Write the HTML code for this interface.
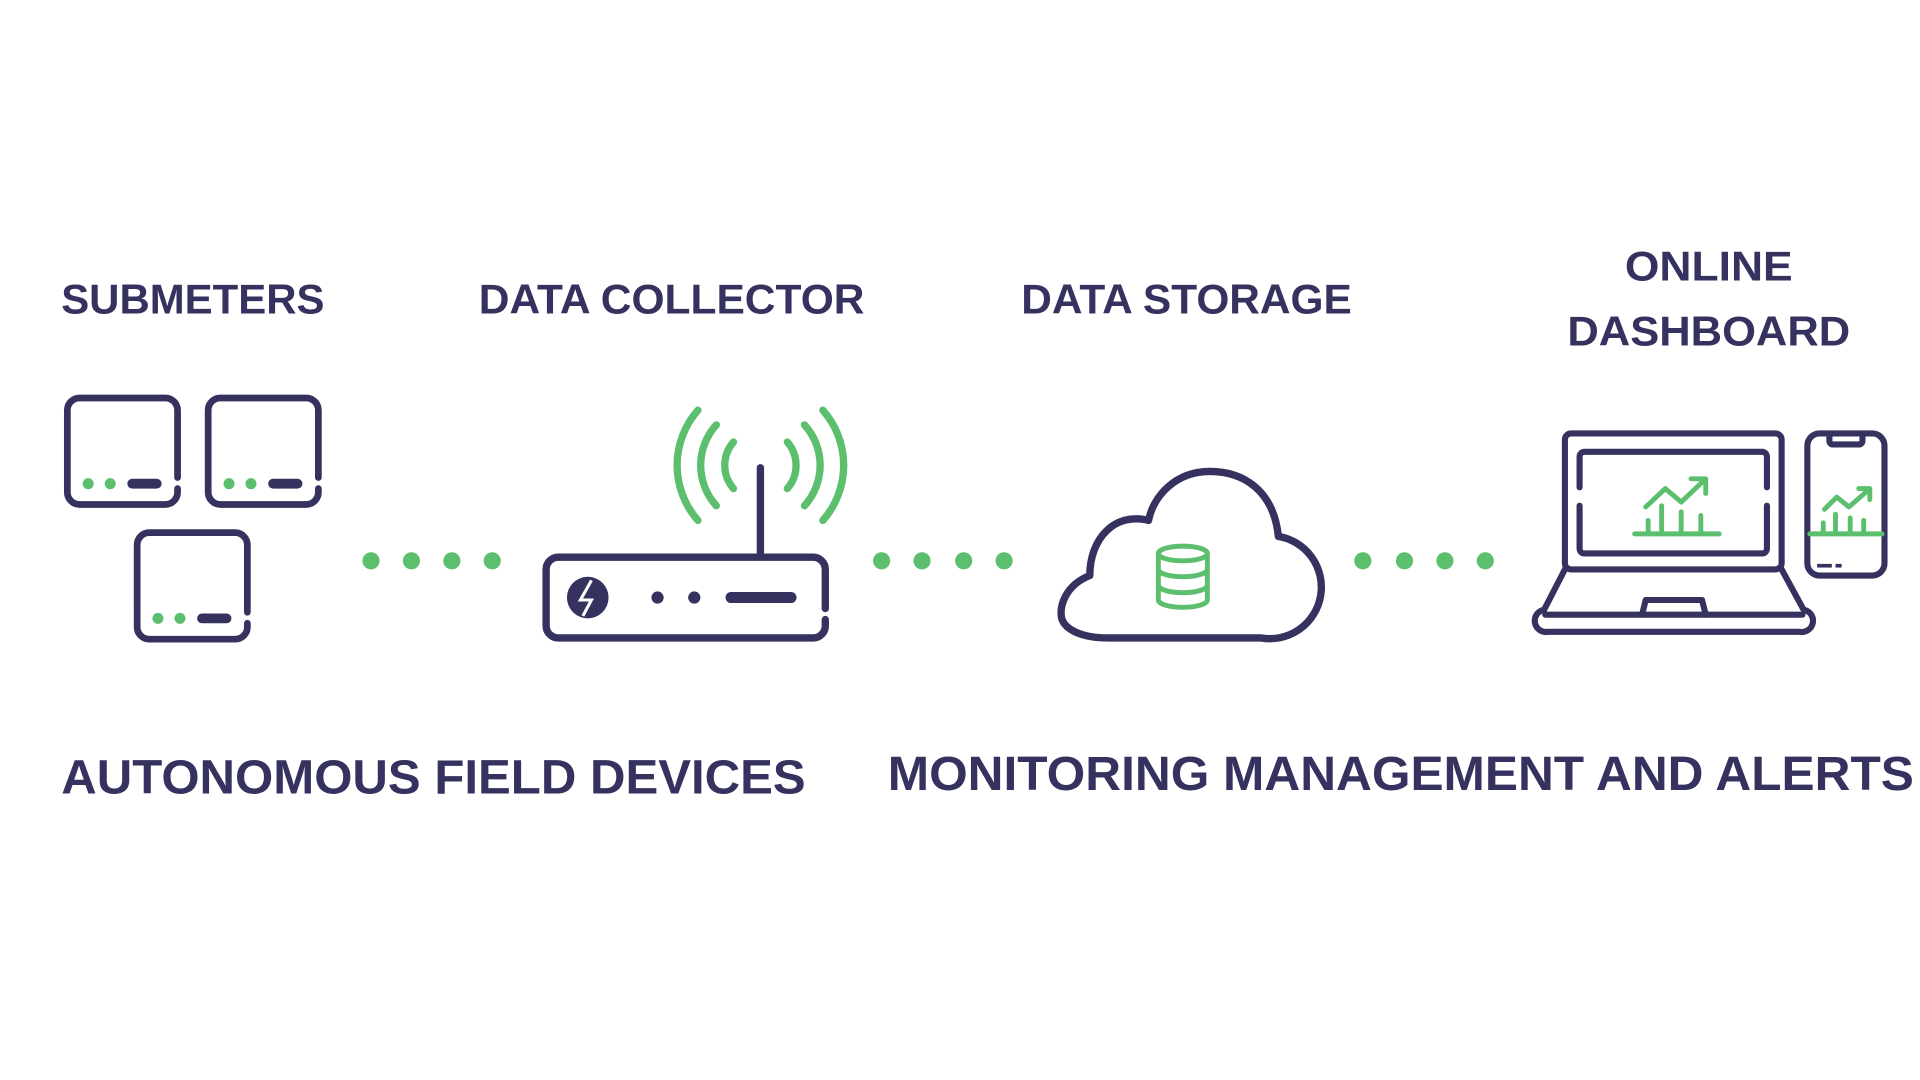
<!DOCTYPE html>
<html><head><meta charset="utf-8"><style>
html,body{margin:0;padding:0;background:#fff;width:1920px;height:1080px;overflow:hidden}
svg{display:block}
text{font-family:"Liberation Sans",sans-serif;font-weight:bold;fill:#35325f}
</style></head><body>
<svg width="1920" height="1080" viewBox="0 0 1568 882" xmlns="http://www.w3.org/2000/svg">
<defs>
<g id="box">
<path d="M90 65 V10 A10 10 0 0 0 80 0 H10 A10 10 0 0 0 0 10 V77 A10 10 0 0 0 10 87 H80 A10 10 0 0 0 90 77 V74" fill="none" stroke="#35325f" stroke-width="5.5" stroke-linecap="round"/>
<circle cx="17" cy="70" r="4.5" fill="#5cbf6e"/><circle cx="35" cy="70" r="4.5" fill="#5cbf6e"/>
<line x1="53" y1="70" x2="73" y2="70" stroke="#35325f" stroke-width="8" stroke-linecap="round"/>
</g>
</defs>
<rect width="1568" height="882" fill="#fff"/>
<text x="50" y="256" font-size="34" textLength="215" lengthAdjust="spacingAndGlyphs">SUBMETERS</text>
<text x="391" y="256" font-size="34" textLength="315" lengthAdjust="spacingAndGlyphs">DATA COLLECTOR</text>
<text x="834" y="256" font-size="34" textLength="270" lengthAdjust="spacingAndGlyphs">DATA STORAGE</text>
<text x="1327" y="229" font-size="34" textLength="137" lengthAdjust="spacingAndGlyphs">ONLINE</text>
<text x="1280" y="282" font-size="34" textLength="231" lengthAdjust="spacingAndGlyphs">DASHBOARD</text>
<text x="50" y="648" font-size="39" textLength="608" lengthAdjust="spacingAndGlyphs">AUTONOMOUS FIELD DEVICES</text>
<text x="725" y="645" font-size="39" textLength="838" lengthAdjust="spacingAndGlyphs">MONITORING MANAGEMENT AND ALERTS</text>

<use href="#box" x="55" y="325"/><use href="#box" x="170" y="325"/><use href="#box" x="112" y="435"/>

<g fill="#5cbf6e">
<circle cx="303" cy="458" r="7"/><circle cx="336" cy="458" r="7"/><circle cx="369" cy="458" r="7"/><circle cx="402" cy="458" r="7"/>
<circle cx="720" cy="458" r="7"/><circle cx="753" cy="458" r="7"/><circle cx="787" cy="458" r="7"/><circle cx="820" cy="458" r="7"/>
<circle cx="1113" cy="458" r="7"/><circle cx="1147" cy="458" r="7"/><circle cx="1180" cy="458" r="7"/><circle cx="1213" cy="458" r="7"/>
</g>

<!-- router -->
<path d="M674 497 V465 A10 10 0 0 0 664 455 H456 A10 10 0 0 0 446 465 V511 A10 10 0 0 0 456 521 H664 A10 10 0 0 0 674 511 V506" fill="none" stroke="#35325f" stroke-width="6" stroke-linecap="round"/>
<line x1="621" y1="382" x2="621" y2="455" stroke="#35325f" stroke-width="6" stroke-linecap="round"/>
<g fill="none" stroke="#5cbf6e" stroke-width="6" stroke-linecap="round">
<path d="M599 361 A29 29 0 0 0 599 399"/><path d="M643 361 A29 29 0 0 1 643 399"/>
<path d="M585 347 A49 49 0 0 0 585 413"/><path d="M657 347 A49 49 0 0 1 657 413"/>
<path d="M570 335 A68 68 0 0 0 570 425"/><path d="M672 335 A68 68 0 0 1 672 425"/>
</g>
<circle cx="480" cy="488" r="17" fill="#35325f"/>
<path d="M483 474 L474 490 H483 L476 503" fill="none" stroke="#fff" stroke-width="2.5"/>
<circle cx="537" cy="488" r="5" fill="#35325f"/><circle cx="567" cy="488" r="5" fill="#35325f"/>
<line x1="597" y1="488" x2="646" y2="488" stroke="#35325f" stroke-width="9" stroke-linecap="round"/>

<!-- cloud -->
<path d="M905 521 H1030 A40 40 0 0 0 1044 438 C1040 400 1015 385 988 385 C960 385 942 405 938 425 C910 418 890 440 890 470 C870 478 865 495 867 505 C870 515 885 521 905 521 Z" fill="none" stroke="#35325f" stroke-width="6" stroke-linejoin="round"/>
<g fill="none" stroke="#5cbf6e" stroke-width="4">
<ellipse cx="966" cy="452" rx="20" ry="6"/>
<path d="M946 452 V490 A20 6 0 0 0 986 490 V452"/>
<path d="M946 465 A20 6 0 0 0 986 465"/><path d="M946 478 A20 6 0 0 0 986 478"/>
</g>

<!-- laptop -->
<g fill="none" stroke="#35325f" stroke-width="5" stroke-linecap="round" stroke-linejoin="round">
<rect x="1278" y="354" width="177" height="111" rx="5"/>
<path d="M1290 398 V373 A4 4 0 0 1 1294 369 H1439 A4 4 0 0 1 1443 373 V398"/>
<path d="M1290 413 V448 A4 4 0 0 0 1294 452 H1439 A4 4 0 0 0 1443 448 V413"/>
<path d="M1278 465 L1261 498 A4 4 0 0 0 1264 516 H1470 A4 4 0 0 0 1473 498 L1455 465"/>
<line x1="1262" y1="502" x2="1472" y2="502"/>
<path d="M1341 502 L1344 490 H1390 L1393 502"/>
<rect x="1476" y="354" width="63" height="116" rx="10"/>
<path d="M1494 355 V360 A3 3 0 0 0 1497 363 H1518 A3 3 0 0 0 1521 360 V355"/>
</g>
<line x1="1484" y1="462" x2="1496" y2="462" stroke="#35325f" stroke-width="3"/>
<line x1="1499" y1="462" x2="1504" y2="462" stroke="#35325f" stroke-width="3"/>
<g fill="none" stroke="#5cbf6e" stroke-width="4" stroke-linecap="round" stroke-linejoin="round">
<path d="M1344 414 L1360 399 L1373 410 L1393 391"/><path d="M1381 391 H1393 V403"/>
<path d="M1335 436 H1404"/><path d="M1346 436 V425 M1357 436 V413 M1373 436 V418 M1389 436 V421"/>
<path d="M1490 416 L1500 406 L1510 414 L1526 400"/><path d="M1518 399 H1527 V408"/>
<path d="M1478 436 H1537"/><path d="M1489 436 V427 M1499 436 V420 M1511 436 V423 M1522 436 V425"/>
</g>
</svg>
</body></html>
